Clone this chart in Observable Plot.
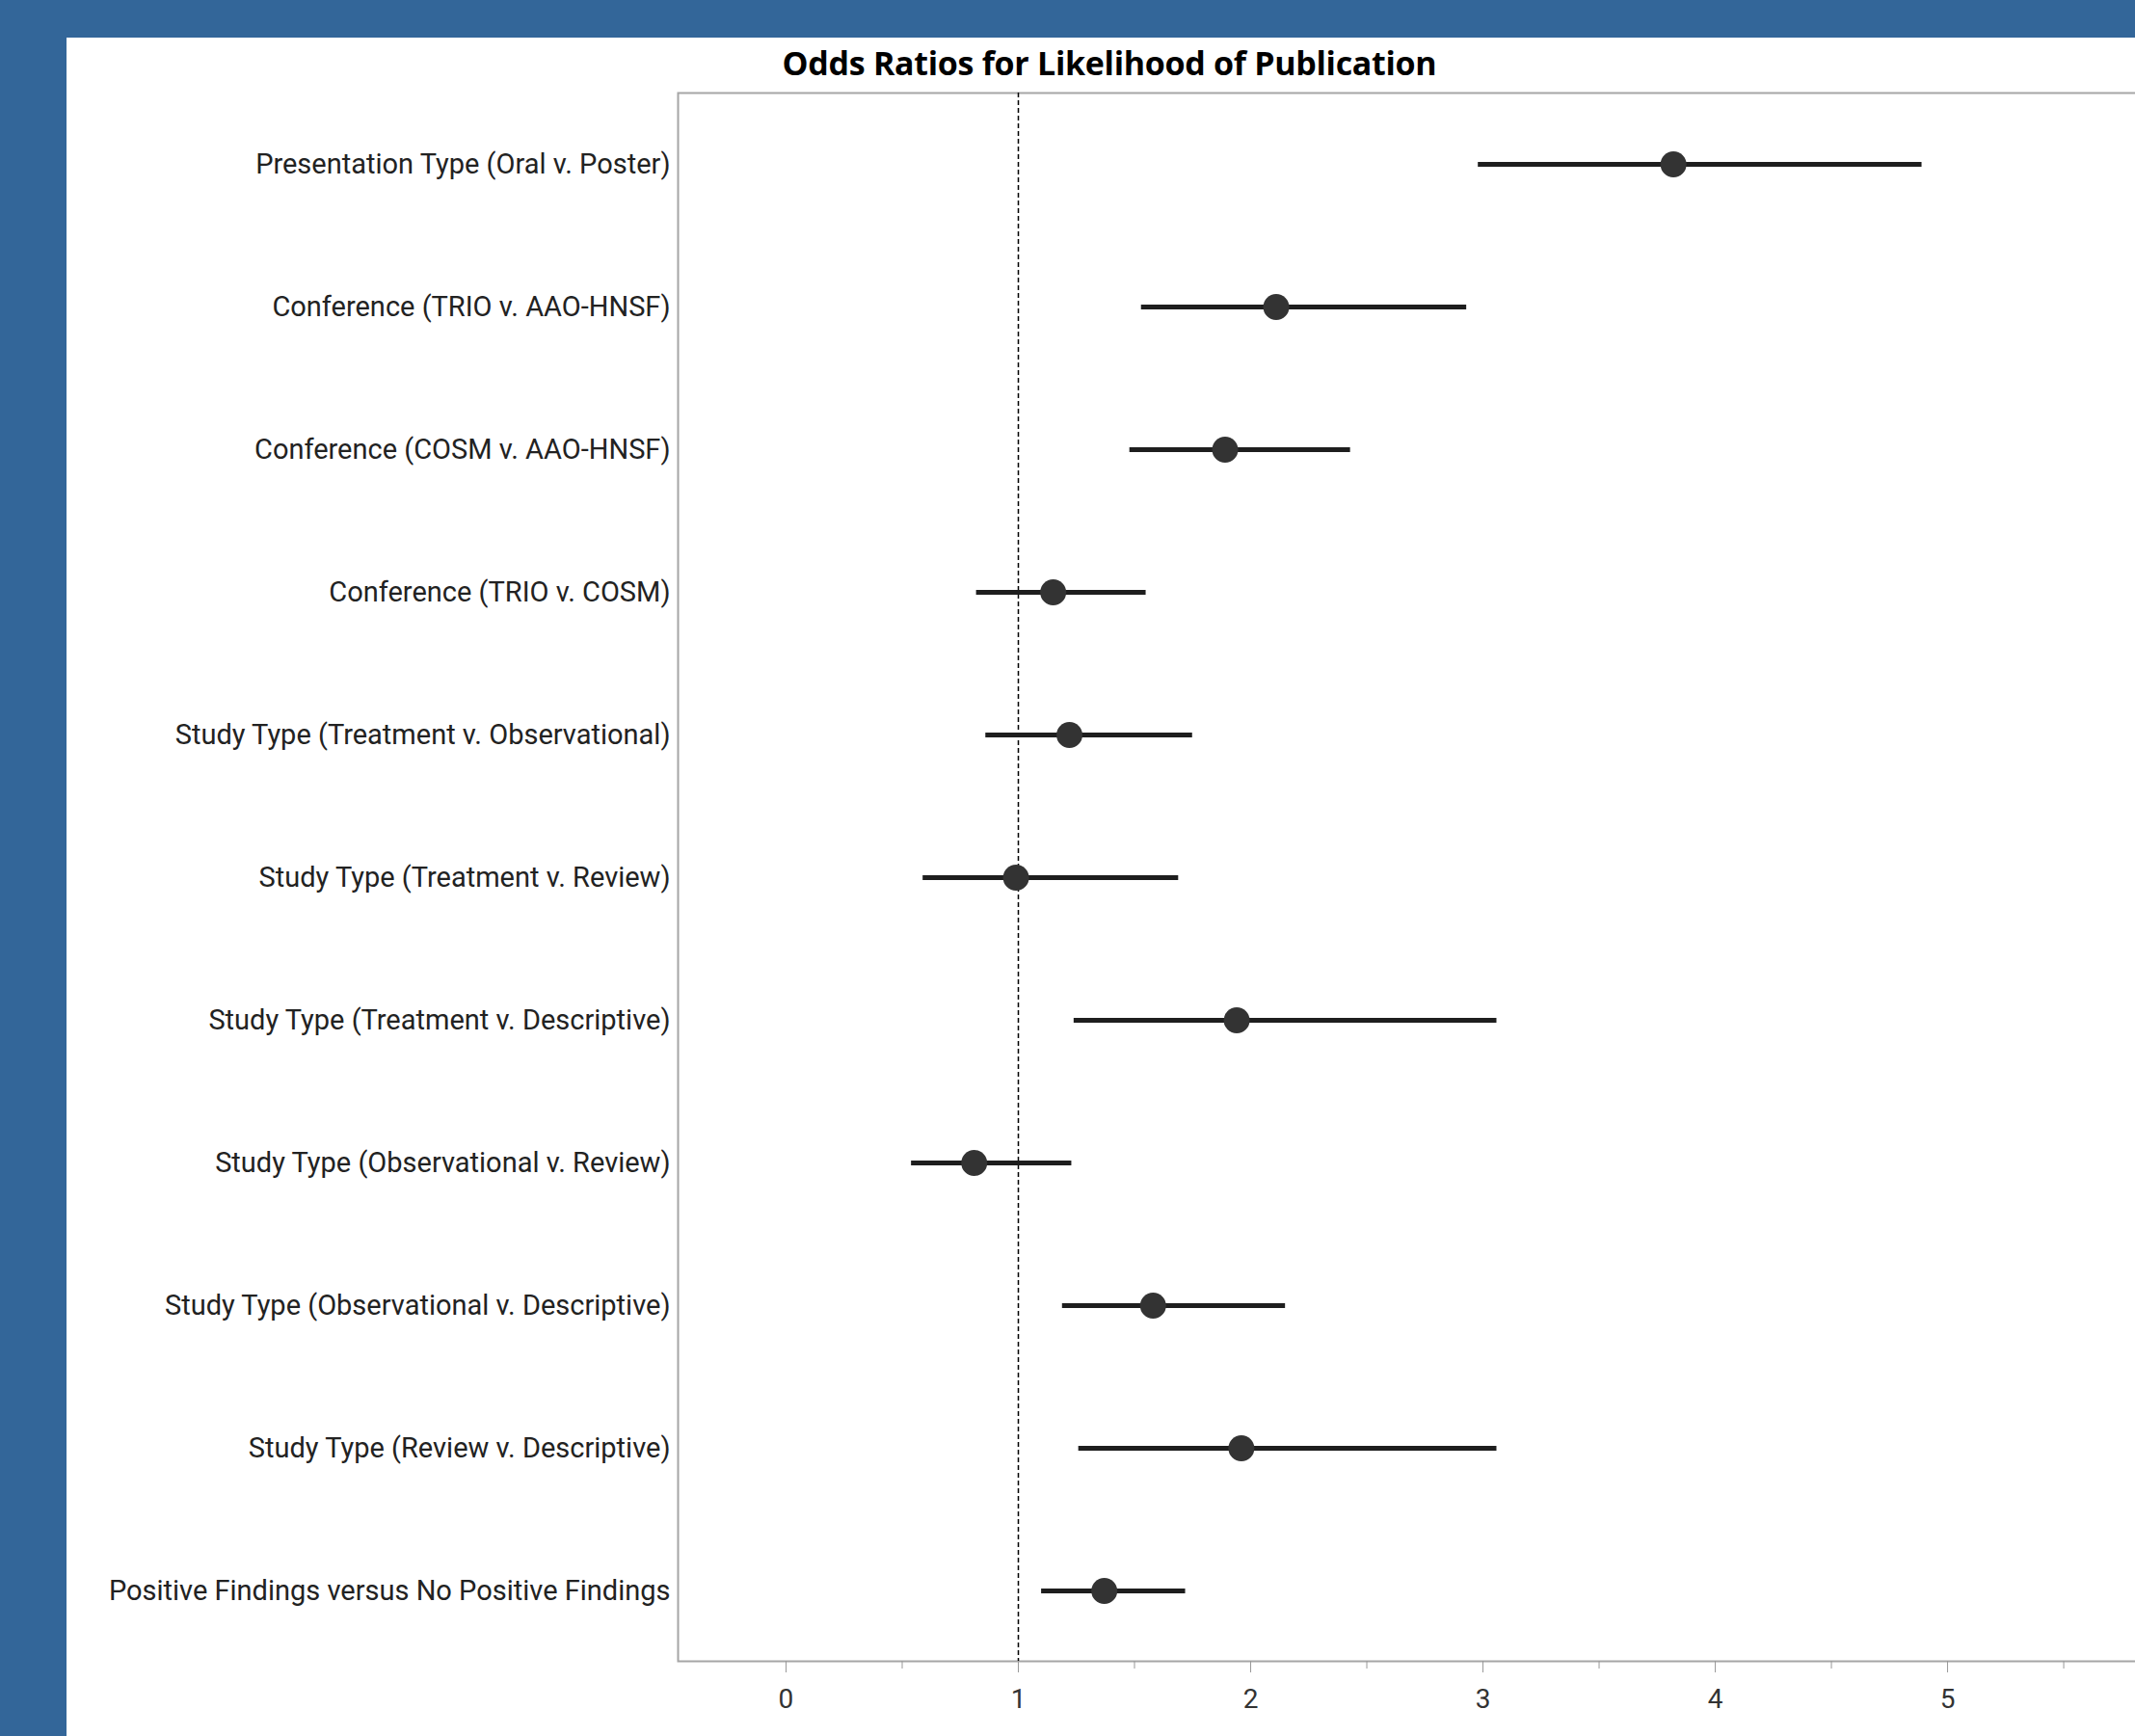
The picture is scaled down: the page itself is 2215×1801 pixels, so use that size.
<!DOCTYPE html>
<html><head><meta charset="utf-8">
<script src="https://cdn.jsdelivr.net/npm/d3@7"></script>
<script src="https://cdn.jsdelivr.net/npm/@observablehq/plot@0.6"></script>
<style>
html,body{margin:0;padding:0;background:#336699;width:2215px;height:1801px;overflow:hidden}
#panel{position:absolute;left:69px;top:39px;width:2146px;height:1762px;background:#fff;overflow:hidden}
#title{position:relative;height:47px}
#title span{position:absolute;left:1082px;top:26px;transform:translate(-50%,-50%);font:bold 34px "Open Sans";white-space:nowrap;color:#000;letter-spacing:-0.3px}
#chart svg{max-width:none !important;height:1715px !important}
</style></head><body>
<div id="panel"><div id="title"><span>Odds Ratios for Likelihood of Publication</span></div><div id="chart"></div></div>
<script>
const labels = [
  "Presentation Type (Oral v. Poster)",
  "Conference (TRIO v. AAO-HNSF)",
  "Conference (COSM v. AAO-HNSF)",
  "Conference (TRIO v. COSM)",
  "Study Type (Treatment v. Observational)",
  "Study Type (Treatment v. Review)",
  "Study Type (Treatment v. Descriptive)",
  "Study Type (Observational v. Review)",
  "Study Type (Observational v. Descriptive)",
  "Study Type (Review v. Descriptive)",
  "Positive Findings versus No Positive Findings"
];
const estimates = [3.82, 2.11, 1.89, 1.15, 1.22, 0.99, 1.94, 0.81, 1.58, 1.96, 1.37];
const lower     = [2.98, 1.53, 1.48, 0.82, 0.86, 0.59, 1.24, 0.54, 1.19, 1.26, 1.10];
const upper     = [4.89, 2.93, 2.43, 1.55, 1.75, 1.69, 3.06, 1.23, 2.15, 3.06, 1.72];
const majorTicks = [0, 1, 2, 3, 4, 5];
const minorTicks = [0.5, 1.5, 2.5, 3.5, 4.5, 5.5];
const referenceValue = [1];

const rows = labels.map((label, i) => ({label, est: estimates[i], lo: lower[i], hi: upper[i]}));
const labelFont = 'Roboto, sans-serif';

const chart = Plot.plot({
  width: 2160,
  height: 1715,
  marginTop: 10,
  marginBottom: 78,
  marginLeft: 634,
  marginRight: 0,
  x: {domain: [-0.4647, 5.867]},
  y: {type: "point", domain: labels, padding: 0.49},
  style: {background: "white", overflow: "visible", maxWidth: "none"},
  marks: [
    Plot.frame({stroke: "#a6a6a6", strokeWidth: 2}),
    Plot.axisX({ticks: minorTicks, tickSize: 8, fill: "none", stroke: "#999", label: null}),
    Plot.axisX({ticks: majorTicks, tickSize: 12, tickPadding: 17, tickFormat: d3.format("d"), fontSize: 28, fontFamily: labelFont, fill: "#333", stroke: "#999", label: null}),
    Plot.axisY({tickSize: 0, tickPadding: 8, fontSize: 29, fontFamily: labelFont, fill: "#222", label: null}),
    Plot.ruleX(referenceValue, {stroke: "#000", strokeWidth: 1.5, strokeDasharray: "5,3"}),
    Plot.ruleY(rows, {y: "label", x1: "lo", x2: "hi", stroke: "#1e1e1e", strokeWidth: 5}),
    Plot.dot(rows, {y: "label", x: "est", r: 13.5, fill: "#333", stroke: "none"})
  ]
});
document.getElementById("chart").appendChild(chart);
</script>
</body></html>
